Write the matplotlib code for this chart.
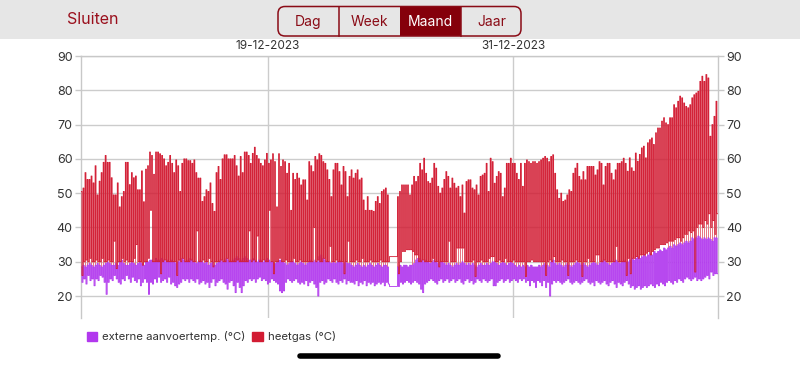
import numpy as np
import pandas as pd
import matplotlib
matplotlib.use('Agg')
import matplotlib.pyplot as plt
import matplotlib.dates as mdates
from matplotlib.patches import Patch, Rectangle, FancyBboxPatch

plt.rcParams['font.family'] = ['Inter', 'DejaVu Sans']

heetgas_piek = [
    50.5, 51.5, 56, 54, 54, 55, 53, 58, 49.5, 53.5, 56, 59, 61, 59, 59, 54.5, 49.5, 49.5, 53, 46, 49, 50.5,
    59, 59, 52.5, 56, 54.5, 55, 51, 51, 56.5, 47.5, 57, 58, 62, 61, 55.5, 62, 62, 61.5, 61, 60, 58, 59,
    61, 58.7, 56, 59.7, 58, 50.5, 58.7, 60, 60, 59.5, 59.5, 58.7, 59.7, 56, 54.4, 54.4, 47.6, 49, 51, 50.5,
    53, 47, 44.7, 56, 57.8, 54, 60, 61.2, 61.2, 60, 60, 60, 61, 58, 55, 60.7, 56, 62, 62, 61, 58.7, 61.6, 63.4, 61, 60,
    58.7, 58, 59.7, 61.6, 58.7, 59.7, 61.5, 59.2, 46, 61.5, 57.8, 59.7, 59.2, 55.8, 58.7, 45, 55.8, 54, 55.8, 54.4,
    52.4, 53.9, 53.9, 48, 59.2, 58, 56.3, 60.7, 59.7, 61.5, 61, 59.2, 58.7, 56.8, 54, 49, 56.8, 58.7, 58.7, 56.3,
    52.4, 57.8, 56.3, 49, 54.9,
    56.8, 54.4, 55.8, 56.8, 53.9, 54.4, 48, 45, 49, 45, 45, 44.7, 47.6, 49, 47, 50.5, 51, 51.5, 49.5,
    31.5, 31.5, 31.5, 31.5,
    49, 50.5, 52.4, 52.4, 52.4, 52.4, 49.5, 52.4, 54.9, 53.4, 54.9, 58.7, 56.8, 60.2, 55.8, 53.4, 52.9, 54.4,
    58.7, 57.3, 52, 50, 51.5,
    54, 56.3, 54.9, 51.5, 54.4, 52.9, 51.5, 52, 49, 52.4, 44.2, 53.4, 53.9, 53.9, 51.5, 51, 52.4, 49.5, 54.9, 55.3,
    55.8, 58.7, 50.5, 60.2, 59.2, 52.9, 54.9, 56.3, 55.8, 49, 51.5, 58.7, 58.7, 60.2, 58.7, 58.7, 55.8, 54, 58.7, 52,
    58.7, 59.7, 59.2, 58.7, 59.2, 59.2,
    58.7, 59.2, 59.7, 60.2, 60.7, 60.2, 59.2, 60.7, 61.2, 55.8, 51, 48.5, 50, 47.6, 48, 49.5, 51, 50.5, 55.8, 57.3,
    58.7, 54.9, 53.9, 56.3, 53.9, 57.8, 57.8, 57.8, 57.8, 55.3, 56.8, 59.2, 58.7, 52.4, 57.8, 58.7, 58.7, 55.8, 53.9, 56.8,
    58.7, 58.7, 59.2, 60.2, 58.7,
    56.4, 60.3, 57.4, 56.4, 61.7, 59.3, 61.3, 63.2, 63.7, 60.3, 64.7, 65.6, 66.1, 64.2, 67.6, 69, 69, 71, 72, 70.5,
    70, 72, 72, 75.8, 74.9, 76.8, 78.3, 77.8, 76.3, 75.3, 74.9, 75.8, 77.8, 78.7, 79.2, 79.7, 82.6, 84.1, 82.6, 84.6,
    83.6, 66.6, 70, 72.4, 76.8,
]
heetgas_dal = [
    26, 30, 30.5, 30, 31, 30, 30, 30.5, 30, 30, 31, 30, 30, 30.5, 30, 30, 36, 28, 30, 30, 31, 30,
    30.5, 30, 30, 30, 31, 35, 30, 30, 29, 30, 30, 31, 45, 30, 30, 30, 30, 26.5, 30, 30.5, 30, 30,
    30, 30, 30, 26, 30.5, 30, 31, 30, 30, 30, 30.5, 30, 30, 39, 30, 30, 30.5, 30, 30, 31,
    30, 28.5, 30, 30, 30, 30.5, 30, 30, 31, 30, 30, 30, 30, 30.5, 30, 30, 30, 30, 30, 39, 30, 30.5, 30, 37.5, 30,
    30, 30.5, 30, 30, 45, 30, 26.5, 30, 30, 31, 30, 30, 30.5, 30, 30, 30, 31, 30, 30, 30.5,
    30, 30, 30, 30, 30, 30, 40, 30, 30.5, 30, 30, 31, 30, 30, 34.5, 30, 30, 30.5, 30, 30,
    30, 26.5, 30, 36, 30,
    30, 30, 30.5, 30, 30, 31, 30, 30, 30, 30.5, 30, 30, 30, 30, 30.5, 30, 30, 30, 30,
    31.5, 31.5, 31.5, 31.5,
    26.5, 30, 33, 33, 33.5, 33.5, 33.5, 33, 32, 32, 30, 30, 30.5, 30, 30, 30, 30, 31,
    30, 30, 28.5, 30, 30,
    30, 30, 36, 30, 30, 30, 34, 34, 34, 34, 30, 30, 30, 30, 30.5, 25.7, 30, 30, 30.5, 30,
    30, 30, 31, 31.5, 31.5, 30, 30, 30.5, 30, 30, 31, 30, 30, 30, 30.5, 30, 30, 30, 30, 30,
    25.7, 30, 30, 30.5, 30, 30,
    30, 30, 30, 30, 26, 30, 30.5, 30, 31.5, 30, 30, 30, 30.5, 30, 30, 26, 30, 30, 30, 30.5,
    30, 30, 25.7, 30, 30, 31, 30, 30, 30, 32, 32, 30, 30, 30.5, 30, 30, 30, 30, 30, 34.5,
    30, 30, 30, 30, 26,
    31, 26.5, 31, 31, 31.5, 31, 32, 32, 32, 32.5, 33, 32, 33, 33.5, 34, 34, 35, 35, 35, 35.5,
    36, 36, 36, 36.5, 37, 37, 36, 37, 38, 38, 39, 38.5, 39, 27, 40, 41, 41, 40, 42, 41,
    44, 40, 42, 38, 44,
]
# externe aanvoertemp. (°C): hoog tijdens draaien, laag tijdens stilstand
aanvoer_hoog = [
    28.5, 29, 28.5, 29, 29.5, 29, 28.5, 29, 29.5, 29, 28.5, 29, 29.5, 30, 29.5, 29, 29, 29.5, 29, 30,
    30.5, 29.5, 29, 29, 29.5, 30, 29.5, 29, 29.5, 30, 29.5, 29, 30, 30, 30.5, 30.5, 30, 31, 30.5, 30.5,
    31, 30.5, 30, 30.5,
    30, 30.5, 30, 29.5, 30, 30.5, 31, 30.5, 30, 30.5, 31, 30.5, 30, 29.5, 30, 30.5, 30, 29.5, 30, 29,
    29.5, 30, 29, 29.5, 30, 30.5, 30, 30.5, 31, 30.5, 30, 30.5, 31, 31.5, 31, 30.5, 31, 31.5, 31, 30.5,
    30.5, 31, 30.5, 30, 30.5,
    30.5, 30, 30.5, 31, 30.5, 30, 30, 29.5, 30, 30.5, 30.5, 30, 29.5, 29, 29.5, 30, 30, 29.5, 29, 29.5,
    30, 29.5, 29, 29.5, 30, 30.5, 30, 30.5, 30, 31.5, 32, 31, 30.5, 30, 30, 29.5, 30, 29.5, 30, 30.5,
    30, 29.5, 30, 29.5, 29.5,
    29, 28.5, 29, 29.5, 29, 28.5, 29, 28.5, 29, 29.5, 29, 28.5, 29, 29.5, 29, 28.5, 29, 29, 28.5,
    22.8, 22.8, 22.8, 22.8,
    28.5, 29, 28.5, 29, 29, 28.5, 29, 29, 29.5, 30.5, 31, 31, 30.5, 30, 30.5, 30, 29.5, 30, 30.5, 30,
    29.5, 30, 30,
    29.5, 29, 29.5, 29, 28.5, 29, 29.5, 29, 29.5, 30, 29.5, 29, 29.5, 29, 29.5, 29, 28.5, 29, 29.5, 29,
    29, 29.5, 29, 29.5, 30, 30, 29.5, 29, 29.5, 30, 29.5, 29, 29.5, 30, 29.5, 29, 28.5, 29, 28.5, 29,
    28.5, 29, 28.5, 29, 28.5, 28.5,
    28.5, 29, 28.5, 29, 29.5, 29, 28.5, 30, 30.5, 29.5, 29, 29.5, 29, 28.5, 29, 29.5, 29, 28.5, 29, 29.5,
    30, 29.5, 29, 29.5, 29, 28.5, 29, 29.5, 30, 29.5, 29, 29.5, 30, 30.5, 30, 29.5, 29, 29.5, 30, 30.5,
    30, 29.5, 30, 30.5, 30,
    30, 30.5, 31, 30.5, 31, 31.5, 31, 31.5, 32, 31.5, 32, 32.5, 32, 33, 32.5, 33, 33.5, 33, 34, 33.5,
    34, 34.5, 34, 35, 34.5, 35, 35.5, 35, 35.5, 36, 35.5, 36, 37, 36.5, 37, 37.5, 37, 36.5, 37, 36.5,
    37, 36.5, 36, 37, 37,
]
aanvoer_laag = [
    24, 25, 23.5, 26, 24.5, 25, 23, 25, 24.5, 26, 25.5, 24, 20.5, 24, 25, 24.5, 26, 25, 24, 23.5,
    25, 24.5, 26, 25, 24, 25.5, 24.5, 24, 25, 23, 24, 25, 24, 20.5, 24, 23.5, 25, 24, 25.5, 24,
    24.5, 25, 24, 25.5,
    23.5, 24, 23, 22.5, 23.5, 24, 25, 24.5, 25, 24, 25, 24.5, 24, 25, 23.5, 24, 24.5, 23.5, 24, 22.5,
    24, 25, 23, 24, 24.5, 25, 24, 23.5, 22, 24, 24.5, 23, 21, 24, 22.5, 21, 23, 24.5, 24, 25,
    24.5, 25, 24, 25, 25.5,
    24.5, 25, 24.5, 23.5, 24, 25, 24.5, 24, 23.5, 21.5, 21, 21.5, 24, 25, 24.5, 24, 24.5, 25, 24, 23.5,
    24, 23.5, 24.5, 23, 24, 24.5, 23.5, 22.5, 20, 24, 24.5, 23.5, 24, 25, 24.5, 24, 25, 24, 23.5, 24.5,
    24, 25, 23.5, 24.5, 24,
    24, 23.5, 24.5, 23, 24, 23.5, 24.5, 23, 24, 23.5, 24, 23, 23.5, 24, 23.5, 24, 23, 24, 23.5,
    22.8, 22.8, 22.8, 22.8,
    22.8, 24, 23.5, 24, 24.5, 24, 23.5, 24, 24.5, 24, 23.5, 22, 21, 23.5, 24, 24.5, 25, 24.5, 24, 23.5,
    24.5, 25, 24,
    24.5, 25, 24, 24.5, 25, 24, 24.5, 25, 24, 23.5, 24.5, 25, 24, 24.5, 23.5, 24, 25, 24.5, 24, 25,
    24.5, 24, 24.5, 25, 23, 23, 24, 24.5, 25, 24, 24.5, 25, 24, 24.5, 25, 24.5, 24, 25, 24.5, 25,
    24, 24.5, 23, 24.5, 24, 22.5,
    24.5, 24, 23, 24.5, 22.5, 24, 20, 23.5, 24.5, 24, 24.5, 24, 23.5, 24, 24.5, 25, 24, 23.5, 24, 24.5,
    24, 23.5, 24, 24.5, 25, 24, 23.5, 24, 23, 24.5, 24, 23.5, 24, 24.5, 23.5, 23, 24, 24.5, 23.5, 22.5,
    24, 23.5, 23, 24, 24.5,
    23.5, 22.5, 23, 22, 22.5, 23, 22, 22.5, 23, 22.5, 23, 23.5, 23, 22.5, 23.5, 23, 24, 23.5, 23, 24,
    24.5, 24, 23.5, 24.5, 24, 25, 24.5, 24, 25, 25.5, 25, 24.5, 25, 25.5, 24.5, 25, 24.5, 25, 25.5, 26,
    25, 27, 26, 26.5, 26.5,
]

periode_start = '2023-12-09 20:10'
periode_eind = '2024-01-10 01:00'
datum_ticks = ['2023-12-19', '2023-12-31']
datum_labels = ['19-12-2023', '31-12-2023']
y_ticks = [20, 30, 40, 50, 60, 70, 80, 90]
knoppen = ['Dag', 'Week', 'Maand', 'Jaar']

ROOD = '#d21c33'
ROOD_LICHT = '#e67784'
PAARS = '#b238ee'
PAARS_LICHT = '#d59ef5'

piek = np.array(heetgas_piek)
dal = np.array(heetgas_dal)
hoog = np.array(aanvoer_hoog)
laag = np.array(aanvoer_laag)

n = len(piek)
t = mdates.date2num(pd.date_range(periode_start, periode_eind, periods=n + 1))
t_aan = t[:-1]
t_uit = t_aan + np.diff(t) * 0.45
cyclus = piek > dal

fig = plt.figure(figsize=(8, 3.69), dpi=100)

# schermrand (kop, knoppen, home-balk) in pixelcoordinaten
ov = fig.add_axes([0, 0, 1, 1], zorder=0)
ov.set_xlim(0, 800)
ov.set_ylim(369, 0)
ov.axis('off')
ov.add_patch(Rectangle((0, 0), 800, 39, color='#e6e6e6', lw=0))
ov.text(67, 20, 'Sluiten', fontsize=11.5, color='#9a0f1c', ha='left', va='center')
ov.add_patch(FancyBboxPatch((278, 6.5), 243, 29.5, boxstyle='round,pad=0,rounding_size=7',
                            fc='none', ec='#8a0b16', lw=1.1, zorder=3))
ov.add_patch(Rectangle((400, 6.5), 61, 29.5, color='#85000b', lw=0, zorder=2))
for xb in [339, 461]:
    ov.plot([xb, xb], [6.5, 36], color='#8a0b16', lw=1.1)
for i, k in enumerate(knoppen):
    ov.text(308.5 + i * 61, 22, k, fontsize=10, ha='center', va='center',
            color='white' if k == 'Maand' else '#8a0b16', zorder=4)
ov.plot([300, 498], [356, 356], color='black', lw=4, solid_capstyle='round')

ax = fig.add_axes([81 / 800, 1 - 318 / 369, 637 / 800, 262 / 369], zorder=1)
ax.patch.set_alpha(0)

# vlakken
ax.bar(t_aan, np.where(cyclus, piek - hoog, 0), bottom=hoog, width=t_uit - t_aan,
       align='edge', color=ROOD_LICHT, lw=0, zorder=2)
ax.bar(t_uit, np.where(cyclus, np.clip(np.minimum(dal, hoog) - laag, 0, None), 0), bottom=laag,
       width=t[1:] - t_uit, align='edge', color=PAARS_LICHT, lw=0, zorder=2)

# lijnen
x = np.column_stack([t_aan, t_uit, t_uit, t[1:]]).ravel()
ax.plot(x, np.column_stack([hoog, hoog, laag, laag]).ravel(), color=PAARS, lw=0.6, zorder=3)
ax.plot(x, np.column_stack([piek, piek, dal, dal]).ravel(), color=ROOD, lw=0.6, zorder=4)

ax.set_xlim(t[0], t[-1])
ax.set_ylim(13.6, 90)
ax.set_yticks(y_ticks)
ax.set_xticks(mdates.date2num(pd.to_datetime(datum_ticks)))
ax.set_xticklabels(datum_labels)
ax.xaxis.tick_top()
ax.tick_params(axis='x', length=0, pad=3, labelsize=8.5, colors='#333333')
ax.tick_params(axis='y', length=4, width=1, color='#c8c8c8', pad=2, labelsize=9,
               labelcolor='#333333', right=True, labelright=True)
ax.grid(True, color='#cccccc', lw=1, zorder=0)
for s in ['left', 'right', 'top']:
    ax.spines[s].set_color('#c8c8c8')
    ax.spines[s].set_linewidth(1)
ax.spines['bottom'].set_visible(False)

ax.legend(handles=[Patch(color=PAARS, label='externe aanvoertemp. (°C)'),
                   Patch(color=ROOD, label='heetgas (°C)')],
          loc='center left', bbox_to_anchor=(81 / 800, 1 - 337 / 369), bbox_transform=fig.transFigure,
          ncol=2, frameon=False, fontsize=8.2, handlelength=0.9, handleheight=0.9,
          handletextpad=0.45, columnspacing=0.6, borderpad=0, labelcolor='#333333')

fig.savefig('out.png', dpi=100)
